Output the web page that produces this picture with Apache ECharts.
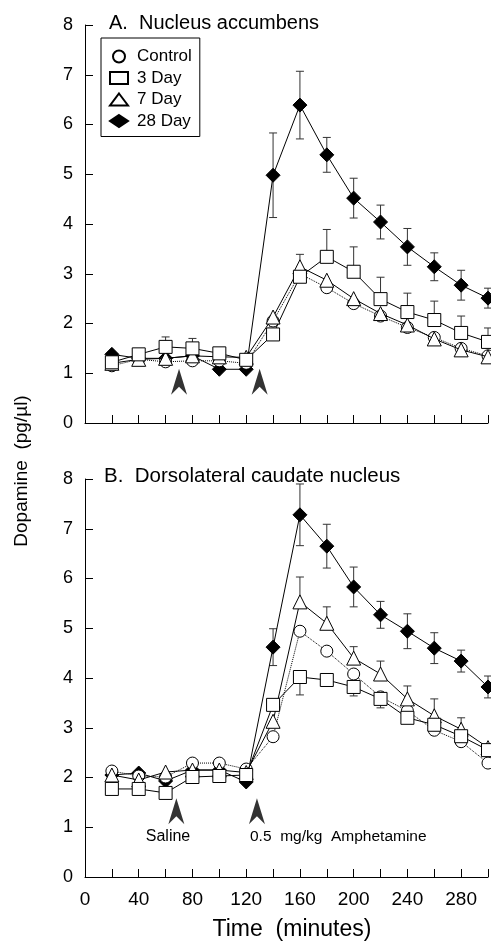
<!DOCTYPE html>
<html>
<head>
<meta charset="utf-8">
<script src="https://cdn.jsdelivr.net/npm/echarts@6/dist/echarts.min.js"></script>
<style>
html,body{margin:0;padding:0;background:#fff;}
#chart{width:491px;height:942px;}
</style>
</head>
<body>
<div id="chart"></div>
<script>
// ---- data ----
const times = [20,40,60,80,100,120,140,160,180,200,220,240,260,280,300];
const xTickLabels = [0,40,80,120,160,200,240,280];
const seriesNames = ['Control','3 Day','7 Day','28 Day'];

// Panel A: Nucleus accumbens
const controlA = [1.15,1.28,1.23,1.25,1.25,1.20,2.05,3.00,2.72,2.40,2.15,1.92,1.72,1.50,1.35];
const day3A    = [1.22,1.38,1.53,1.50,1.40,1.27,1.78,2.94,3.34,3.04,2.49,2.23,2.07,1.81,1.63];
const day7A    = [1.20,1.28,1.30,1.35,1.33,1.32,2.13,3.14,2.87,2.50,2.20,1.97,1.69,1.47,1.33];
const day28A   = [1.38,1.30,1.30,1.35,1.08,1.08,4.98,6.39,5.39,4.52,4.04,3.54,3.14,2.77,2.51];
const sem28A   = [null,null,null,null,null,null,0.85,0.68,0.35,0.40,0.34,0.37,0.28,0.30,0.20];
const sem3A    = [null,null,0.20,0.20,null,null,null,0.45,0.55,0.50,0.44,0.38,0.38,0.34,0.28];

// Panel B: Dorsolateral caudate nucleus
const controlB = [2.13,2.03,2.01,2.29,2.29,2.17,2.82,4.94,4.54,4.08,3.62,3.34,2.95,2.72,2.29];
const day3B    = [1.77,1.77,1.69,2.01,2.03,2.05,3.46,4.02,3.96,3.82,3.58,3.20,3.06,2.83,2.55];
const day7B    = [2.05,1.95,2.11,2.15,2.15,2.10,3.13,5.53,5.10,4.40,4.08,3.58,3.24,2.97,2.60];
const day28B   = [2.05,2.09,1.93,2.15,2.15,1.91,4.62,7.28,6.65,5.83,5.27,4.94,4.60,4.34,3.82];
const sem28B   = [null,null,null,null,null,null,0.37,0.62,0.44,0.40,0.27,0.35,0.31,0.22,0.22];
const sem7B    = [null,null,null,null,null,null,null,0.50,0.33,0.23,0.26,0.26,0.34,0.23,null];
const sem3B    = [null,null,null,null,null,null,null,0.36,null,0.18,0.18,null,null,null,null];

// Injection arrows [time, value]
const arrowsA = [[70,0.83],[130,0.83]];
const arrowsB = [[68,1.32],[128,1.32]];

// ---- build ----
const FONT = 'Liberation Sans, Arial, sans-serif';
const symbols = {
  'Control': {symbol:'circle', size:12, fill:'#fff', dash:'dotted'},
  '3 Day': {symbol:'rect', size:13, fill:'#fff', dash:'solid'},
  '7 Day': {symbol:'triangle', size:14, fill:'#fff', dash:'solid'},
  '28 Day': {symbol:'diamond', size:14, fill:'#000', dash:'solid'}
};

function lineSeries(name, vals, gi, z){
  const s = symbols[name];
  return {
    type:'line', name, xAxisIndex:gi, yAxisIndex:gi,
    data: times.map((t,i)=>[t, vals[i]]),
    symbol:s.symbol, symbolSize:s.size, z:z,
    lineStyle:{color:'#000', width:1, type:s.dash},
    itemStyle:{color:s.fill, borderColor:'#000', borderWidth:1},
    emphasis:{disabled:true}, animation:false
  };
}

function errSeries(vals, sems, dir, gi){
  const data = [];
  times.forEach((t,i)=>{ if (sems[i] != null) data.push([t, vals[i], sems[i], dir]); });
  return {
    type:'custom', xAxisIndex:gi, yAxisIndex:gi, z:1, silent:true, animation:false,
    data,
    renderItem:function(params, api){
      const x = api.value(0), y = api.value(1), s = api.value(2), d = api.value(3);
      const p = api.coord([x,y]);
      const hi = api.coord([x,y+s]);
      const lo = api.coord([x,y-s]);
      const top = d >= 0 ? hi[1] : p[1];
      const bot = d <= 0 ? lo[1] : p[1];
      const st = {stroke:'#333', lineWidth:1};
      const ch = [{type:'line', shape:{x1:p[0],y1:top,x2:p[0],y2:bot}, style:st}];
      if (d >= 0) ch.push({type:'line', shape:{x1:p[0]-4,y1:hi[1],x2:p[0]+4,y2:hi[1]}, style:st});
      if (d <= 0) ch.push({type:'line', shape:{x1:p[0]-4,y1:lo[1],x2:p[0]+4,y2:lo[1]}, style:st});
      return {type:'group', children:ch};
    }
  };
}

function arrowSeries(pts, gi){
  return {
    type:'scatter', xAxisIndex:gi, yAxisIndex:gi, silent:true, animation:false,
    symbol:'path://M8,0 L16,26 L8,18 L0,26 Z', symbolSize:[16,26],
    itemStyle:{color:'#000'}, data:pts, z:5
  };
}

const gridL = 85, gridW = 403;
const grids = [
  {left:gridL, top:25, width:gridW, height:398},
  {left:gridL, top:479, width:gridW, height:398}
];

function xAxis(gi, showLabels){
  return {
    type:'value', gridIndex:gi, min:0, max:300, interval:20,
    axisLine:{lineStyle:{color:'#000', width:1}},
    axisTick:{inside:true, length:8, lineStyle:{color:'#000'}},
    splitLine:{show:false},
    axisLabel:{
      show:showLabels, margin:13, color:'#000', fontFamily:FONT, fontSize:19,
      formatter:function(v){ return xTickLabels.indexOf(v) >= 0 ? String(v) : ''; }
    }
  };
}
function yAxis(gi){
  return {
    type:'value', gridIndex:gi, min:0, max:8, interval:1,
    axisLine:{show:true, lineStyle:{color:'#000', width:1}},
    axisTick:{show:true, inside:true, length:8, lineStyle:{color:'#000'}},
    splitLine:{show:false},
    axisLabel:{margin:12, color:'#000', fontFamily:FONT, fontSize:18}
  };
}

const series = [
  errSeries(day28A, sem28A, 0, 0),
  errSeries(day3A, sem3A, 1, 0),
  lineSeries('28 Day', day28A, 0, 2),
  lineSeries('Control', controlA, 0, 3),
  lineSeries('7 Day', day7A, 0, 4),
  lineSeries('3 Day', day3A, 0, 4),
  arrowSeries(arrowsA, 0),
  errSeries(day28B, sem28B, 0, 1),
  errSeries(day7B, sem7B, 1, 1),
  errSeries(day3B, sem3B, -1, 1),
  lineSeries('28 Day', day28B, 1, 2),
  lineSeries('Control', controlB, 1, 3),
  lineSeries('7 Day', day7B, 1, 4),
  lineSeries('3 Day', day3B, 1, 4),
  arrowSeries(arrowsB, 1)
];

const legendIcons = {'Control':'circle','3 Day':'rect','7 Day':'triangle','28 Day':'diamond'};

const option = {
  backgroundColor:'#fff',
  animation:false,
  grid:grids,
  xAxis:[xAxis(0,false), xAxis(1,true)],
  yAxis:[yAxis(0), yAxis(1)],
  title:[
    {text:'A.  Nucleus accumbens', left:104, top:8, textStyle:{fontFamily:FONT, fontSize:20, fontWeight:'normal', color:'#000'}},
    {text:'B.  Dorsolateral caudate nucleus', left:99, top:461, textStyle:{fontFamily:FONT, fontSize:20.5, fontWeight:'normal', color:'#000'}}
  ],
  legend:{
    orient:'vertical', left:101, top:38,
    padding:[10,8,7,8], itemGap:4.5, itemWidth:18, itemHeight:12,
    borderColor:'#000', borderWidth:1, backgroundColor:'#fff',
    selectedMode:false,
    textStyle:{fontFamily:FONT, fontSize:17, color:'#000', padding:[0,0,0,4]},
    data: seriesNames.map(n=>({name:n, icon:legendIcons[n]}))
  },
  graphic:[
    {type:'text', rotation:Math.PI/2, x:22, y:471,
      style:{text:'Dopamine  (pg/µl)', font:'19px ' + FONT, fill:'#000', textAlign:'center', textVerticalAlign:'middle'}},
    {type:'text', x:292, y:930,
      style:{text:'Time  (minutes)', font:'23px ' + FONT, fill:'#000', textAlign:'center', textVerticalAlign:'middle'}},
    {type:'text', x:168, y:837,
      style:{text:'Saline', font:'16px ' + FONT, fill:'#000', textAlign:'center', textVerticalAlign:'middle'}},
    {type:'text', x:250, y:837,
      style:{text:'0.5  mg/kg  Amphetamine', font:'15.5px ' + FONT, fill:'#000', textAlign:'left', textVerticalAlign:'middle'}}
  ],
  series
};

const chart = echarts.init(document.getElementById('chart'), null, {renderer:'canvas'});
chart.setOption(option);
</script>
</body>
</html>
